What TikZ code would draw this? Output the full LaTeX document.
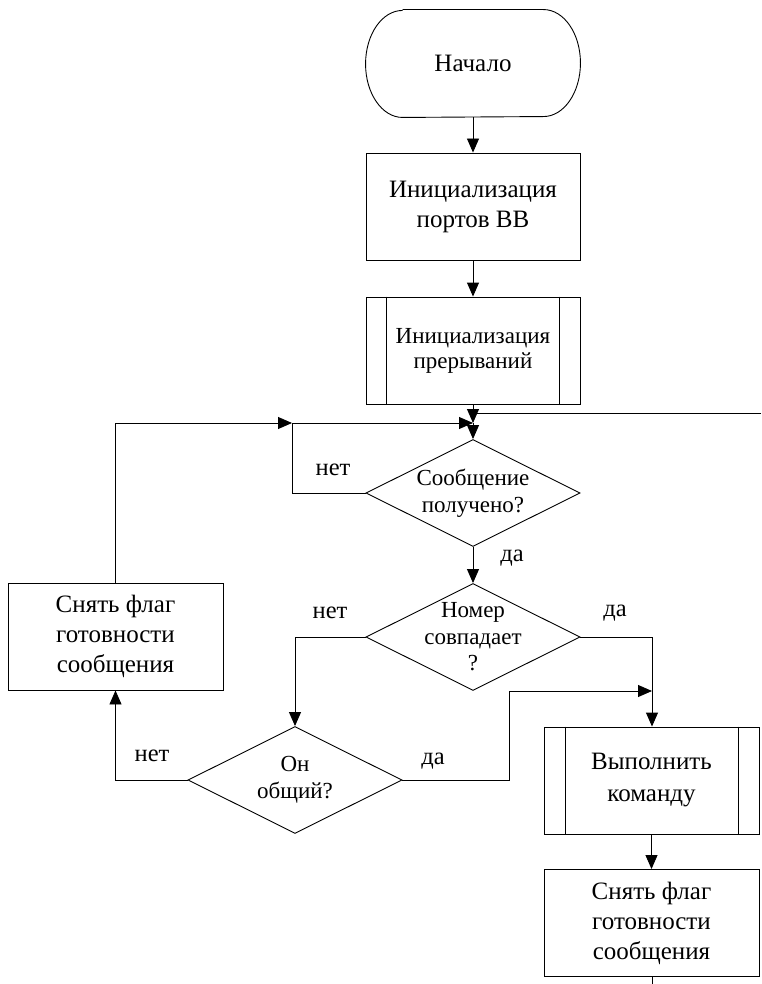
\documentclass[tikz,border=0pt]{standalone}
\usepackage{fontspec}
\setmainfont{Liberation Serif}
\usetikzlibrary{arrows.meta,shapes.geometric}
\begin{document}
\begin{tikzpicture}[x=1pt,y=-1pt, line width=0.9pt,
  box/.style={draw, rectangle, minimum width=214pt, minimum height=107pt, inner sep=0pt, align=center, font=\fontsize{25}{30}\selectfont},
  pbox/.style={box, font=\fontsize{23}{25}\selectfont},
  diam/.style={draw, diamond, minimum width=214pt, minimum height=107pt, inner sep=0pt},
  dtext/.style={align=center, font=\fontsize{23}{26.5}\selectfont},
  lbl/.style={font=\fontsize{24.5}{28}\selectfont},
  arr/.style={-{Triangle[length=14pt,width=12pt]}}
]
\useasboundingbox (0,0) rectangle (761,984);

% terminal
\node[minimum width=214pt, minimum height=107pt, inner sep=0pt, font=\fontsize{25}{30}\selectfont] (start) at (473,63.5) {Начало};
\draw ([xshift=37pt]start.north west) -- ([xshift=-37pt]start.north east)
  arc[start angle=90, end angle=-90, x radius=37pt, y radius=53.5pt]
  -- ([xshift=37pt]start.south west)
  arc[start angle=270, end angle=90, x radius=37pt, y radius=53.5pt];

\node[box] (init) at (473,206.5) {Инициализация\\портов ВВ};
\node[pbox] (intr) at (473,350.5) {Инициализация\\прерываний};
\draw ([xshift=21pt]intr.north west) -- ([xshift=21pt]intr.south west);
\draw ([xshift=-21pt]intr.north east) -- ([xshift=-21pt]intr.south east);

\node[diam] (d1) at (473,493) {};
\node[dtext] (t1) at (d1.center) {Сообщение\\получено?};
\node[diam] (d2) at (473,637) {};
\node[dtext] (t2) at (d2.center) {Номер\\совпадает\\?};
\node[diam] (d3) at (295,780) {};
\node[dtext] (t3) at (d3.center) {Он\\общий?};

\node[box, minimum width=215pt] (left) at (115.5,636.5) {Снять флаг\\готовности\\сообщения};
\node[box, minimum width=215pt, font=\fontsize{25}{32}\selectfont] (exec) at (651.5,780.5) {Выполнить\\команду};
\draw ([xshift=22pt]exec.north west) -- ([xshift=22pt]exec.south west);
\draw ([xshift=-21pt]exec.north east) -- ([xshift=-21pt]exec.south east);
\node[box, minimum width=215pt] (clr) at (651.5,923) {Снять флаг\\готовности\\сообщения};

\coordinate (j1) at (473,423);
\coordinate (j2) at (292,423);
\coordinate (rin) at (761,413);
\coordinate (rj) at (473,413);
\coordinate (j3) at (652,691);
\coordinate (bot) at (652,984);

\draw[arr] (start) -- (init);
\draw[arr] (init) -- (intr);
\draw[arr] (intr) -- (j1);
\draw[arr] (j1) -- (d1.north);
\draw (rin) -- (rj);
\draw[arr] (d1.west) -| (j2) -- (j1);
\draw[arr] (d1.south) -- (d2.north);
\draw[arr] (d2.west) -| (d3.north);
\draw[arr] (d2.east) -- (652,637) -- (exec.north -| j3);
\draw[arr] (d3.east) -- (509,780) -- (509,691) -- (j3);
\draw[arr] (d3.west) -| (left.south);
\draw[arr] (left.north) |- (j2);
\draw[arr] (exec) -- (clr);
\draw (clr.south -| bot) -- (bot);

\node[lbl] (n1) at (333,470) {нет};
\node[lbl] (y1) at (512,558) {да};
\node[lbl] (n2) at (330,613) {нет};
\node[lbl] (y2) at (615,613) {да};
\node[lbl] (n3) at (152,756) {нет};
\node[lbl] (y3) at (433,761) {да};
\end{tikzpicture}
\end{document}
